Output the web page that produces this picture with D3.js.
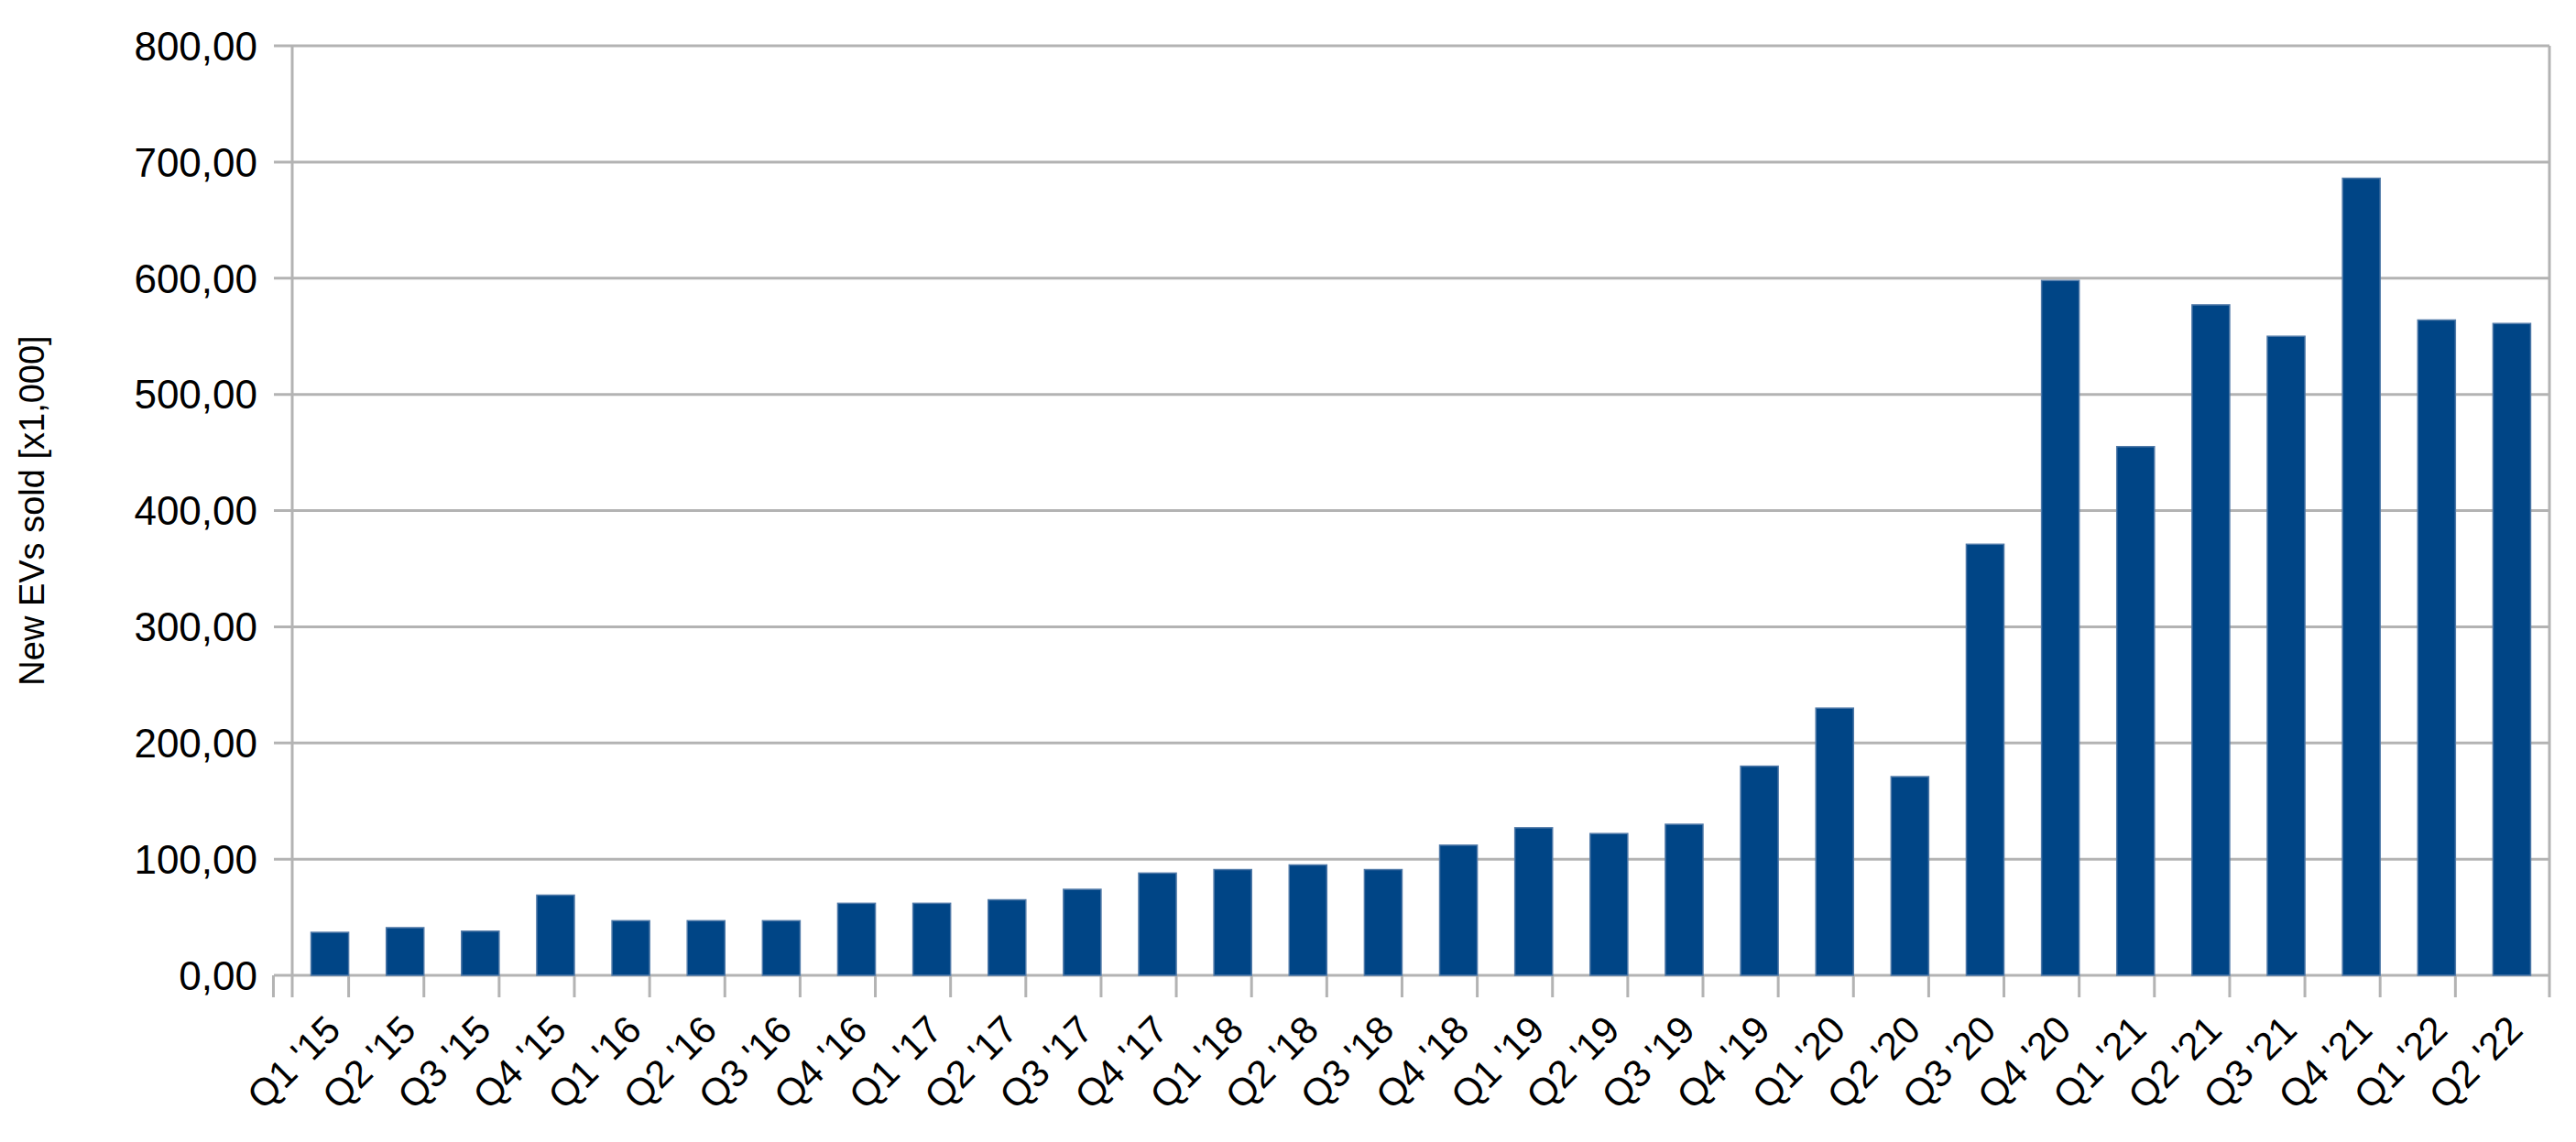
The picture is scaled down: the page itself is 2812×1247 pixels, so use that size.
<!DOCTYPE html>
<html><head><meta charset="utf-8">
<script src="https://cdn.jsdelivr.net/npm/d3@7"></script>
<style>body{margin:0;background:#fff}</style></head>
<body><svg id="c" width="2812" height="1247"></svg>
<script>
const categories = ["Q1 '15","Q2 '15","Q3 '15","Q4 '15","Q1 '16","Q2 '16","Q3 '16","Q4 '16","Q1 '17","Q2 '17","Q3 '17","Q4 '17","Q1 '18","Q2 '18","Q3 '18","Q4 '18","Q1 '19","Q2 '19","Q3 '19","Q4 '19","Q1 '20","Q2 '20","Q3 '20","Q4 '20","Q1 '21","Q2 '21","Q3 '21","Q4 '21","Q1 '22","Q2 '22"];
const values = [37,41,38,69,47,47,47,62,62,65,74,88,91,95,91,112,127,122,130,180,230,171,371,598,455,577,550,686,564,561];
const yTicks = [0,100,200,300,400,500,600,700,800];
const yTitle = "New EVs sold [x1,000]";

const svg = d3.select("#c");
const L=319, R=2783, T=50, B=1065;
const x = d3.scaleBand().domain(categories).range([L,R]).paddingInner(0.5).paddingOuter(0.25);
const y = d3.scaleLinear().domain([0,800]).range([B,T]);
const grid="#b3b3b3", font="'Liberation Sans', Arial, sans-serif";

// gridlines + y ticks
svg.append("g").selectAll("line").data(yTicks).join("line")
  .attr("x1",L-20).attr("x2",R).attr("y1",d=>y(d)).attr("y2",d=>y(d))
  .attr("stroke",grid).attr("stroke-width",3);
svg.append("g").selectAll("text").data(yTicks).join("text")
  .attr("x",281).attr("y",d=>y(d)).attr("dy","0.36em").attr("text-anchor","end")
  .attr("font-family",font).attr("font-size",44).attr("fill","#000")
  .text(d=>d3.format(".2f")(d).replace(".",","));
// axis lines
svg.append("line").attr("x1",L).attr("x2",L).attr("y1",T).attr("y2",B+24).attr("stroke",grid).attr("stroke-width",3);
svg.append("line").attr("x1",R).attr("x2",R).attr("y1",T).attr("y2",B).attr("stroke",grid).attr("stroke-width",3);
// x ticks at category boundaries
const step = x.step();
const bounds = categories.map((c,i)=>x(c)-x.bandwidth()/2-step*0.0 - (step-x.bandwidth())/2 );
bounds.push(R);
svg.append("g").selectAll("line").data(bounds).join("line")
  .attr("x1",d=>d).attr("x2",d=>d).attr("y1",B).attr("y2",B+24)
  .attr("stroke",grid).attr("stroke-width",3);
// bars
svg.append("g").selectAll("rect").data(values).join("rect")
  .attr("x",(d,i)=>x(categories[i])).attr("width",x.bandwidth())
  .attr("y",d=>y(d)).attr("height",d=>B-y(d))
  .attr("fill","#004586").attr("stroke","#4f79a8").attr("stroke-width",1.5);
// x labels
svg.append("g").selectAll("text").data(categories).join("text")
  .attr("transform",d=>`translate(${x(d)+x.bandwidth()/2+14},${B+62}) rotate(-45)`)
  .attr("text-anchor","end").attr("font-family",font).attr("font-size",42).attr("fill","#000")
  .text(d=>d);
// y title
svg.append("text").attr("transform",`translate(48,${(T+B)/2}) rotate(-90)`)
  .attr("text-anchor","middle").attr("font-family",font).attr("font-size",38).attr("fill","#000")
  .text(yTitle);
</script></body></html>
